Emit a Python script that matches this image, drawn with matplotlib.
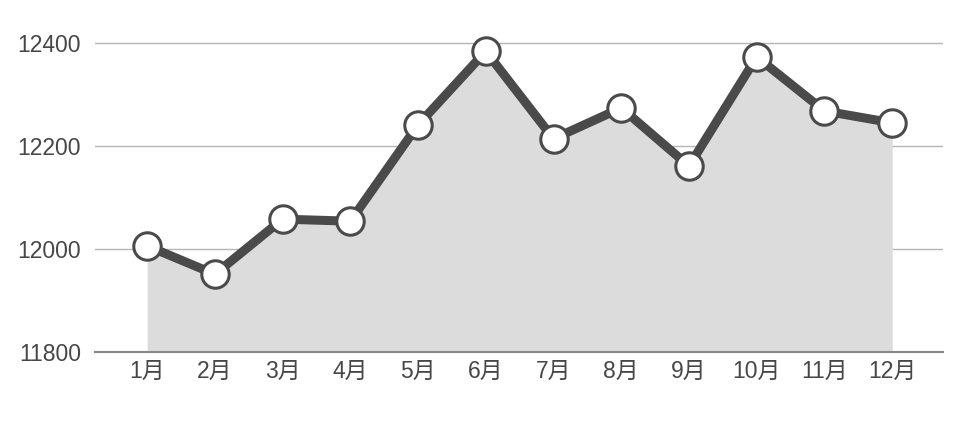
import matplotlib.pyplot as plt

plt.rcParams['font.family'] = ['Liberation Sans', 'Noto Sans CJK SC', 'DejaVu Sans']

# 月度数据
months = ['1月', '2月', '3月', '4月', '5月', '6月', '7月', '8月', '9月', '10月', '11月', '12月']
values = [12006, 11951, 12058, 12054, 12241, 12384, 12214, 12274, 12161, 12373, 12268, 12245]
yticks = [11800, 12000, 12200, 12400]

fig = plt.figure(figsize=(9.6, 4.21), dpi=100)
ax = fig.add_axes([95 / 960, 69 / 421, 848 / 960, 352 / 421])

x = list(range(len(months)))
ax.fill_between(x, 11800, values, color='#dcdcdc', lw=0, zorder=1)
ax.plot(x, values, color='#4a4a4a', lw=6.5, zorder=3, solid_capstyle='round')
ax.scatter(x, values, s=390, facecolor='white', edgecolor='#4a4a4a', linewidths=2.2, zorder=4)

for t in yticks[1:]:
    ax.axhline(t, color='#b5b5b5', lw=1, zorder=0)

ax.set_xlim(-0.77, 11.75)
ax.set_ylim(11800, 11800 + 352 / 0.515)
ax.set_xticks(x)
ax.set_xticklabels(months)
ax.set_yticks(yticks)
ax.tick_params(length=0, labelsize=16.5, colors='#474747', pad=6)
ax.tick_params(axis='y', pad=10)

for s in ['top', 'right', 'left']:
    ax.spines[s].set_visible(False)
ax.spines['bottom'].set_color('#888888')
ax.spines['bottom'].set_linewidth(1.5)
ax.spines['bottom'].set_zorder(2)

fig.savefig('out.png', dpi=100)
